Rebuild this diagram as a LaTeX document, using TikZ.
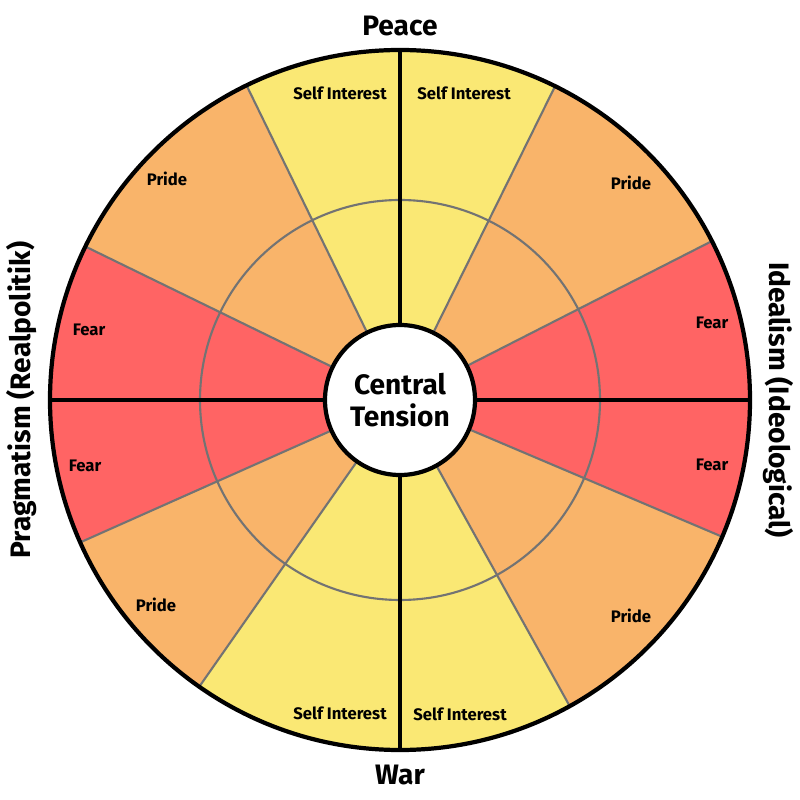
\documentclass[tikz,border=0pt]{standalone}
\usepackage{fontspec}
\setmainfont{Fira Sans}
\begin{document}
\begin{tikzpicture}[x=0.02cm,y=0.02cm,
  lab/.style={font=\bfseries\fontsize{9.5}{11}\selectfont},
  big/.style={font=\bfseries\fontsize{16}{18}\selectfont},
  gline/.style={draw=gray!90!black,line width=1.2pt},
  bline/.style={draw=black,line width=2.4pt}]
\definecolor{cy}{HTML}{FAE874}
\definecolor{co}{HTML}{F9B46A}
\definecolor{cr}{HTML}{FF6464}
\useasboundingbox (-400,-400) rectangle (400,400);
\fill[white] (-400,-400) rectangle (400,400);
\coordinate (O) at (0,0);
% sectors: start, end, colour
\foreach \a/\b/\c in {0/27/cr,27/63.7/co,63.7/90/cy,90/116/cy,116/154/co,154/180/cr,
  180/204/cr,204/235/co,235/270/cy,270/299/cy,299/337/co,337/360/cr}
  {\fill[\c] (O) -- (\a:350) arc[start angle=\a,end angle=\b,radius=350] -- cycle;}
\draw[gline] (O) circle[radius=200];
\foreach \a in {27,63.7,116,154,204,235,299,337}
  {\draw[gline] (O) -- (\a:350);}
\node[draw=black,line width=2.4pt,fill=white,circle,minimum size=150*0.02cm,inner sep=0pt,
  big,align=center] (c) at (O) {Central\\Tension};
\coordinate (t) at (90:350); \coordinate (b) at (270:350);
\coordinate (l) at (180:350); \coordinate (r) at (0:350);
\draw[bline] (c.north) -- (t); \draw[bline] (c.south) -- (b);
\draw[bline] (c.west) -- (l); \draw[bline] (c.east) -- (r);
\draw[bline] (O) circle[radius=350];
\node[lab] (s1) at (64,307) {Self Interest};
\node[lab] (s2) at (-60,307) {Self Interest};
\node[lab] (p1) at (231,217) {Pride};
\node[lab] (p2) at (-233,221) {Pride};
\node[lab] (f1) at (312,77) {Fear};
\node[lab] (f2) at (-311,70) {Fear};
\node[lab] (f3) at (-315,-66) {Fear};
\node[lab] (f4) at (312,-65) {Fear};
\node[lab] (p3) at (-244,-205) {Pride};
\node[lab] (p4) at (231,-216) {Pride};
\node[lab] (s3) at (-60,-313) {Self Interest};
\node[lab] (s4) at (60,-314) {Self Interest};
\node[big] (peace) at (0,374) {Peace};
\node[big] (war) at (0,-375) {War};
\node[big,rotate=90] (prag) at (-378,0) {Pragmatism (Realpolitik)};
\node[big,rotate=-90] (ideal) at (378,0) {Idealism (Ideological)};
\end{tikzpicture}
\end{document}
